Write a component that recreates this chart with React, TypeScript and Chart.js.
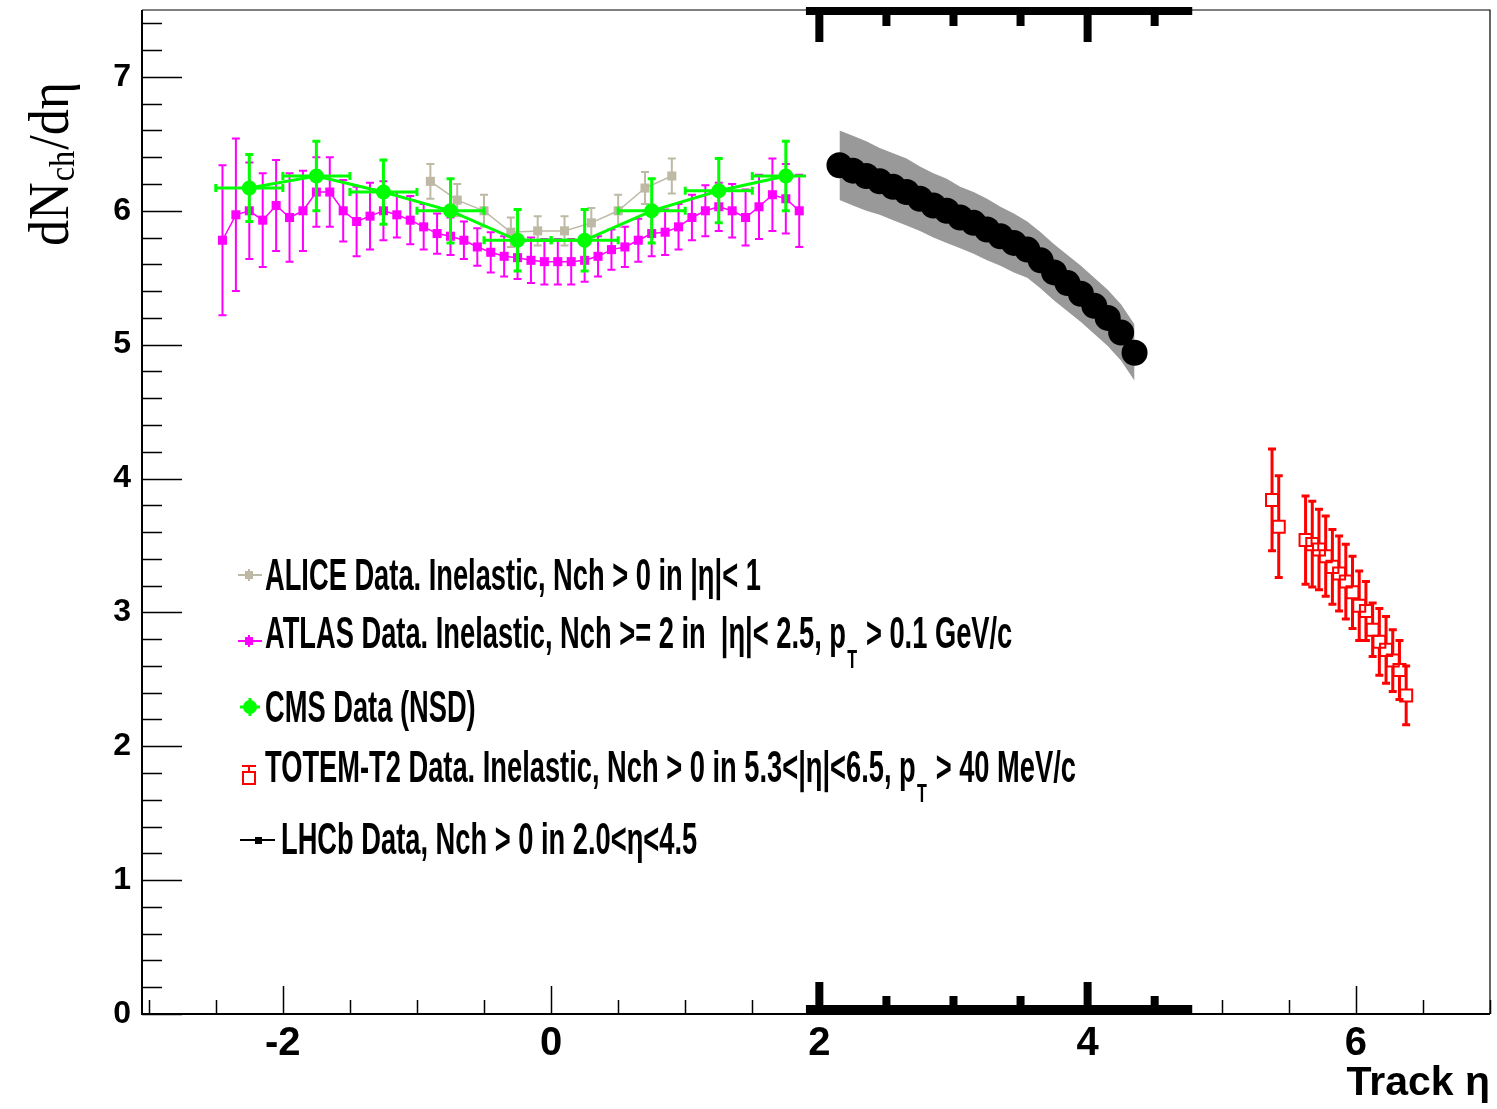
import React, { useEffect, useRef } from "react";
import { Chart, registerables } from "chart.js";

Chart.register(...registerables);

// ---------------- data ----------------
const ATLAS_ETA = [-2.45, -2.35, -2.25, -2.15, -2.05, -1.95, -1.85, -1.75, -1.65, -1.55, -1.45, -1.35, -1.25, -1.15, -1.05, -0.95, -0.85, -0.75, -0.65, -0.55, -0.45, -0.35, -0.25, -0.15, -0.05, 0.05, 0.15, 0.25, 0.35, 0.45, 0.55, 0.65, 0.75, 0.85, 0.95, 1.05, 1.15, 1.25, 1.35, 1.45, 1.55, 1.65, 1.75, 1.85];
const ATLAS_DNDETA = [5.78, 5.97, 6.0, 5.93, 6.04, 5.95, 6.0, 6.14, 6.14, 6.0, 5.92, 5.96, 6.0, 5.97, 5.93, 5.88, 5.83, 5.81, 5.78, 5.73, 5.69, 5.66, 5.65, 5.63, 5.62, 5.62, 5.62, 5.63, 5.66, 5.71, 5.73, 5.78, 5.83, 5.84, 5.88, 5.95, 6.0, 6.03, 6.0, 5.95, 6.03, 6.12, 6.09, 6.0];
const ATLAS_ERR = [0.56, 0.57, 0.36, 0.35, 0.34, 0.33, 0.3, 0.26, 0.26, 0.23, 0.26, 0.25, 0.22, 0.17, 0.18, 0.17, 0.15, 0.14, 0.14, 0.14, 0.15, 0.15, 0.16, 0.17, 0.17, 0.17, 0.17, 0.16, 0.15, 0.15, 0.15, 0.16, 0.17, 0.17, 0.17, 0.17, 0.19, 0.18, 0.2, 0.21, 0.24, 0.27, 0.26, 0.27];

const ALICE_ETA = [-0.9, -0.7, -0.5, -0.3, -0.1, 0.1, 0.3, 0.5, 0.7, 0.9];
const ALICE_DNDETA = [6.22, 6.08, 6.0, 5.84, 5.85, 5.85, 5.91, 6.0, 6.17, 6.26];
const ALICE_ERR = [0.13, 0.12, 0.12, 0.11, 0.11, 0.11, 0.11, 0.12, 0.12, 0.13];

const CMS_ETA = [-2.25, -1.75, -1.25, -0.75, -0.25, 0.25, 0.75, 1.25, 1.75];
const CMS_DNDETA = [6.17, 6.26, 6.14, 6.0, 5.78, 5.78, 6.0, 6.15, 6.26];
const CMS_ERR = [0.25, 0.26, 0.24, 0.24, 0.23, 0.23, 0.24, 0.24, 0.26];
const CMS_ETA_ERR = [0.25, 0.25, 0.25, 0.25, 0.25, 0.25, 0.25, 0.25, 0.25];

const LHCB_ETA = [2.15, 2.25, 2.35, 2.45, 2.55, 2.65, 2.75, 2.85, 2.95, 3.05, 3.15, 3.25, 3.35, 3.45, 3.55, 3.65, 3.75, 3.85, 3.95, 4.05, 4.15, 4.25, 4.35];
const LHCB_DNDETA = [6.34, 6.3, 6.26, 6.22, 6.18, 6.14, 6.09, 6.04, 6.0, 5.95, 5.91, 5.86, 5.81, 5.76, 5.71, 5.63, 5.54, 5.46, 5.38, 5.29, 5.2, 5.09, 4.94];
const LHCB_BAND = [0.26, 0.26, 0.26, 0.25, 0.25, 0.25, 0.24, 0.24, 0.24, 0.23, 0.23, 0.23, 0.22, 0.22, 0.21, 0.21, 0.21, 0.21, 0.21, 0.21, 0.21, 0.21, 0.21];

const TOTEM_ETA = [5.375, 5.425, 5.625, 5.675, 5.725, 5.775, 5.825, 5.875, 5.925, 5.975, 6.025, 6.075, 6.125, 6.175, 6.225, 6.275, 6.325, 6.375];
const TOTEM_DNDETA = [3.84, 3.64, 3.54, 3.51, 3.47, 3.42, 3.34, 3.29, 3.23, 3.15, 3.05, 3.01, 2.87, 2.78, 2.72, 2.64, 2.57, 2.38];
const TOTEM_ERR = [0.38, 0.38, 0.33, 0.32, 0.3, 0.3, 0.28, 0.28, 0.28, 0.27, 0.26, 0.22, 0.2, 0.25, 0.25, 0.23, 0.22, 0.22];

const X_TICKS = [-2, 0, 2, 4, 6];
const Y_TICKS = [0, 1, 2, 3, 4, 5, 6, 7];
const LHCB_FRAME_RANGE = [1.9, 4.78];
const LHCB_FRAME_TICKS = [2, 2.5, 3, 3.5, 4, 4.5];
const LHCB_FRAME_MAJOR = [2, 4];

const LEGEND_ENTRIES = [
  { key: "alice", parts: [{ t: "ALICE Data. Inelastic, Nch > 0 in |η|< 1" }] },
  { key: "atlas", parts: [{ t: "ATLAS Data. Inelastic, Nch >= 2 in  |η|< 2.5, p" }, { t: "T", sub: true }, { t: " > 0.1 GeV/c" }] },
  { key: "cms", parts: [{ t: "CMS Data (NSD)" }] },
  { key: "totem", parts: [{ t: "TOTEM-T2 Data. Inelastic, Nch > 0 in 5.3<|η|<6.5, p" }, { t: "T", sub: true }, { t: " > 40 MeV/c" }] },
  { key: "lhcb", parts: [{ t: "LHCb Data, Nch > 0 in 2.0<η<4.5" }] },
];

// ---------------- colours ----------------
const C_ALICE = "#bdb9a5";
const C_ATLAS = "#ff00ff";
const C_CMS = "#00ff00";
const C_TOTEM = "#ff0000";
const C_LHCB = "#000000";
const C_BAND = "#999999";

const pts = (xs: number[], ys: number[]) => xs.map((x, i) => ({ x, y: ys[i] }));

// ---------------- plugins ----------------
const errorBarPlugin = {
  id: "errorBars",
  beforeDatasetDraw(chart: any, args: any) {
    const ds = chart.data.datasets[args.index];
    const ctx = chart.ctx;
    const xs = chart.scales.x;
    const ys = chart.scales.y;
    const ca = chart.chartArea;
    ctx.save();
    if (ds.clipMaxX !== undefined) {
      ctx.beginPath();
      ctx.rect(ca.left, ca.top, xs.getPixelForValue(ds.clipMaxX) - ca.left, ca.bottom - ca.top);
      ctx.clip();
    }
    if (!ds.errY && !ds.errX) return;
    ctx.strokeStyle = ds.errColor;
    ctx.lineWidth = ds.errWidth;
    const gap = ds.errGap || 0;
    const c = ds.capHalf || 0;
    ds.data.forEach((p: any, i: number) => {
      const px = xs.getPixelForValue(p.x);
      const py = ys.getPixelForValue(p.y);
      ctx.beginPath();
      if (ds.errY) {
        const e = ds.errY[i];
        const top = ys.getPixelForValue(p.y + e);
        const bot = ys.getPixelForValue(p.y - e);
        if (top < py - gap) { ctx.moveTo(px, top); ctx.lineTo(px, py - gap); }
        if (bot > py + gap) { ctx.moveTo(px, py + gap); ctx.lineTo(px, bot); }
        ctx.moveTo(px - c, top); ctx.lineTo(px + c, top);
        ctx.moveTo(px - c, bot); ctx.lineTo(px + c, bot);
      }
      if (ds.errX) {
        const e = ds.errX[i];
        const l = xs.getPixelForValue(p.x - e);
        const r = xs.getPixelForValue(p.x + e);
        ctx.moveTo(l, py); ctx.lineTo(r, py);
        ctx.moveTo(l, py - c); ctx.lineTo(l, py + c);
        ctx.moveTo(r, py - c); ctx.lineTo(r, py + c);
      }
      ctx.stroke();
    });
  },
  afterDatasetDraw(chart: any) {
    chart.ctx.restore();
  },
};

const framePlugin = {
  id: "frame",
  afterDraw(chart: any) {
    const { ctx, chartArea: ca, scales } = chart;
    const x = scales.x;
    const y = scales.y;
    ctx.save();
    ctx.strokeStyle = "#000";
    ctx.lineWidth = 1.2;
    ctx.beginPath();
    ctx.moveTo(ca.left, ca.top);
    ctx.lineTo(ca.right, ca.top);
    ctx.lineTo(ca.right, ca.bottom);
    ctx.stroke();
    ctx.lineWidth = 2;
    ctx.beginPath();
    ctx.moveTo(ca.left, ca.top);
    ctx.lineTo(ca.left, ca.bottom);
    ctx.lineTo(ca.right, ca.bottom);
    ctx.stroke();
    // y ticks (inward)
    ctx.lineWidth = 1.5;
    ctx.beginPath();
    for (let i = 0; i <= 37; i++) {
      const py = Math.round(y.getPixelForValue(i * 0.2)) + 0.5;
      const len = i % 5 === 0 ? 40 : 20;
      ctx.moveTo(ca.left, py);
      ctx.lineTo(ca.left + len, py);
    }
    ctx.stroke();
    // x ticks (inward)
    ctx.beginPath();
    for (let i = -6; i <= 14; i++) {
      const px = Math.round(x.getPixelForValue(i * 0.5)) + 0.5;
      const len = i % 4 === 0 ? 28 : 14;
      ctx.moveTo(px, ca.bottom);
      ctx.lineTo(px, ca.bottom - len);
    }
    ctx.stroke();
    // LHCb frame overlay (thick segments)
    ctx.fillStyle = "#000";
    const x1 = x.getPixelForValue(LHCB_FRAME_RANGE[0]);
    const x2 = x.getPixelForValue(LHCB_FRAME_RANGE[1]);
    ctx.fillRect(x1, ca.top - 3, x2 - x1, 8);
    ctx.fillRect(x1, ca.bottom - 9, x2 - x1, 9);
    LHCB_FRAME_TICKS.forEach((v) => {
      const px = x.getPixelForValue(v);
      const major = LHCB_FRAME_MAJOR.includes(v);
      ctx.fillRect(px - 4, ca.top, 8, major ? 32 : 16);
      ctx.fillRect(px - 4, ca.bottom - (major ? 32 : 18), 8, major ? 32 : 18);
    });
    ctx.restore();
  },
};

const SQUEEZE = 0.62;
const LEGEND_X = [265, 265, 265, 265, 281];
const LEGEND_Y = [590, 648, 722, 782, 854];

const legendPlugin = {
  id: "customLegend",
  afterDraw(chart: any) {
    const ctx = chart.ctx;
    ctx.save();
    LEGEND_ENTRIES.forEach((entry, k) => {
      const bx = LEGEND_X[k];
      const by = LEGEND_Y[k];
      const my = by - 15;
      ctx.save();
      if (entry.key === "alice") {
        ctx.strokeStyle = C_ALICE; ctx.fillStyle = C_ALICE; ctx.lineWidth = 2;
        ctx.beginPath(); ctx.moveTo(238, my); ctx.lineTo(262, my); ctx.moveTo(249, my - 6); ctx.lineTo(249, my + 6); ctx.stroke();
        ctx.fillRect(245, my - 4, 8, 8);
      } else if (entry.key === "atlas") {
        const yy = by - 7;
        ctx.strokeStyle = C_ATLAS; ctx.fillStyle = C_ATLAS; ctx.lineWidth = 2;
        ctx.beginPath(); ctx.moveTo(238, yy); ctx.lineTo(262, yy); ctx.moveTo(249, yy - 6); ctx.lineTo(249, yy + 6); ctx.stroke();
        ctx.fillRect(245, yy - 4, 8, 8);
      } else if (entry.key === "cms") {
        const yy = by - 15;
        ctx.strokeStyle = C_CMS; ctx.fillStyle = C_CMS; ctx.lineWidth = 3;
        ctx.beginPath(); ctx.moveTo(240, yy); ctx.lineTo(260, yy); ctx.moveTo(250, yy - 9); ctx.lineTo(250, yy + 9); ctx.stroke();
        ctx.beginPath(); ctx.arc(250, yy, 7, 0, Math.PI * 2); ctx.fill();
      } else if (entry.key === "totem") {
        const yy = by - 4;
        ctx.strokeStyle = C_TOTEM; ctx.lineWidth = 2;
        ctx.strokeRect(243, yy - 6, 12, 12);
        ctx.beginPath(); ctx.moveTo(249, yy - 6); ctx.lineTo(249, yy - 12); ctx.moveTo(242, yy - 12); ctx.lineTo(256, yy - 12); ctx.stroke();
      } else if (entry.key === "lhcb") {
        const yy = by - 14;
        ctx.strokeStyle = C_LHCB; ctx.fillStyle = C_LHCB; ctx.lineWidth = 2;
        ctx.beginPath(); ctx.moveTo(240, yy); ctx.lineTo(275, yy); ctx.stroke();
        ctx.fillRect(255, yy - 3, 7, 7);
      }
      ctx.restore();
      ctx.save();
      ctx.translate(bx, by);
      ctx.scale(SQUEEZE, 1);
      ctx.fillStyle = "#000";
      ctx.textBaseline = "alphabetic";
      let cx = 0;
      entry.parts.forEach((p: any) => {
        ctx.font = p.sub ? 'bold 26px "Liberation Sans", Arial, sans-serif' : 'bold 44px "Liberation Sans", Arial, sans-serif';
        ctx.fillText(p.t, cx + (p.sub ? 2 : 0), p.sub ? 20 : 0);
        cx += ctx.measureText(p.t).width + (p.sub ? 4 : 0);
      });
      ctx.restore();
    });
    ctx.restore();
  },
};

const yTitlePlugin = {
  id: "yTitle",
  afterDraw(chart: any) {
    const ctx = chart.ctx;
    ctx.save();
    ctx.translate(68, 246);
    ctx.rotate(-Math.PI / 2);
    ctx.scale(0.9, 1);
    ctx.fillStyle = "#000";
    ctx.textBaseline = "alphabetic";
    ctx.font = '58px "Liberation Serif", "Times New Roman", serif';
    ctx.fillText("dN", 0, 0);
    let w = ctx.measureText("dN").width;
    ctx.font = '36px "Liberation Serif", "Times New Roman", serif';
    ctx.fillText("ch", w + 1, 6);
    w += ctx.measureText("ch").width + 2;
    ctx.font = '58px "Liberation Serif", "Times New Roman", serif';
    ctx.fillText("/dη", w, 0);
    ctx.restore();
  },
};

const zeroPad = (axis: any) => {
  axis.paddingTop = 0;
  axis.paddingBottom = 0;
  axis.paddingLeft = 0;
  axis.paddingRight = 0;
};

// ---------------- component ----------------
export default function App() {
  const ref = useRef<HTMLCanvasElement>(null);

  useEffect(() => {
    if (!ref.current) return;
    const bandUpper = LHCB_ETA.map((x, i) => ({ x, y: LHCB_DNDETA[i] + LHCB_BAND[i] }));
    const bandLower = LHCB_ETA.map((x, i) => ({ x, y: LHCB_DNDETA[i] - LHCB_BAND[i] }));

    const datasets: any[] = [
      {
        label: "LHCb band upper",
        data: bandUpper,
        showLine: true,
        pointRadius: 0,
        borderWidth: 0,
        borderColor: C_BAND,
        backgroundColor: C_BAND,
        fill: "+1",
        order: 20,
      },
      {
        label: "LHCb band lower",
        data: bandLower,
        showLine: true,
        pointRadius: 0,
        borderWidth: 0,
        borderColor: C_BAND,
        backgroundColor: C_BAND,
        fill: false,
        order: 19,
      },
      {
        label: "LHCb",
        data: pts(LHCB_ETA, LHCB_DNDETA),
        showLine: false,
        pointStyle: "circle",
        pointRadius: 13,
        pointBackgroundColor: C_LHCB,
        pointBorderWidth: 0,
        order: 10,
      },
      {
        label: "TOTEM",
        data: pts(TOTEM_ETA, TOTEM_DNDETA),
        showLine: false,
        pointStyle: "rect",
        pointRadius: 8.5,
        pointBackgroundColor: "rgba(255,255,255,0)",
        pointBorderColor: C_TOTEM,
        pointBorderWidth: 2,
        errY: TOTEM_ERR,
        errColor: C_TOTEM,
        errWidth: 3,
        errGap: 6,
        capHalf: 4,
        order: 9,
      },
      {
        label: "ATLAS",
        data: pts(ATLAS_ETA, ATLAS_DNDETA),
        showLine: true,
        borderColor: C_ATLAS,
        borderWidth: 1.5,
        pointStyle: "rect",
        pointRadius: 6.4,
        pointBackgroundColor: C_ATLAS,
        pointBorderWidth: 0,
        errY: ATLAS_ERR,
        errColor: C_ATLAS,
        errWidth: 2,
        capHalf: 4,
        clipMaxX: LHCB_FRAME_RANGE[0],
        order: 8,
      },
      {
        label: "ALICE",
        data: pts(ALICE_ETA, ALICE_DNDETA),
        showLine: true,
        borderColor: C_ALICE,
        borderWidth: 1.5,
        pointStyle: "rect",
        pointRadius: 6.4,
        pointBackgroundColor: C_ALICE,
        pointBorderWidth: 0,
        errY: ALICE_ERR,
        errColor: C_ALICE,
        errWidth: 2,
        capHalf: 4,
        clipMaxX: LHCB_FRAME_RANGE[0],
        order: 7,
      },
      {
        label: "CMS",
        data: pts(CMS_ETA, CMS_DNDETA),
        showLine: true,
        borderColor: C_CMS,
        borderWidth: 3,
        pointStyle: "circle",
        pointRadius: 7.5,
        pointBackgroundColor: C_CMS,
        pointBorderWidth: 0,
        errY: CMS_ERR,
        errX: CMS_ETA_ERR,
        errColor: C_CMS,
        errWidth: 3,
        capHalf: 4,
        clipMaxX: LHCB_FRAME_RANGE[0],
        order: 1,
      },
    ];

    const chart = new Chart(ref.current, {
      type: "scatter",
      data: { datasets },
      options: {
        animation: false,
        responsive: false,
        devicePixelRatio: 1,
        layout: { autoPadding: false, padding: { left: 0, right: 7, top: 10, bottom: 0 } },
        plugins: {
          legend: { display: false },
          tooltip: { enabled: false },
        },
        scales: {
          x: {
            type: "linear",
            min: -3.05,
            max: 7,
            grid: { display: false, drawTicks: false },
            border: { display: false },
            afterBuildTicks: (axis: any) => {
              axis.ticks = X_TICKS.map((v) => ({ value: v }));
            },
            afterFit: (axis: any) => {
              axis.height = 95;
              zeroPad(axis);
            },
            ticks: {
              autoSkip: false,
              maxRotation: 0,
              padding: 6,
              color: "#000",
              font: { family: '"Liberation Sans", Arial, sans-serif', size: 40, weight: "bold" },
            },
            title: {
              display: true,
              text: "Track η",
              align: "end",
              color: "#000",
              padding: { top: 0, bottom: 1 },
              font: { family: '"Liberation Sans", Arial, sans-serif', size: 41, weight: "bold" },
            },
          },
          y: {
            type: "linear",
            min: 0,
            max: 7.5,
            grid: { display: false, drawTicks: false },
            border: { display: false },
            afterBuildTicks: (axis: any) => {
              axis.ticks = Y_TICKS.map((v) => ({ value: v }));
            },
            afterFit: (axis: any) => {
              axis.width = 142;
              zeroPad(axis);
            },
            ticks: {
              autoSkip: false,
              padding: 11,
              color: "#000",
              font: { family: '"Liberation Sans", Arial, sans-serif', size: 32, weight: "bold" },
            },
          },
        },
      } as any,
      plugins: [errorBarPlugin, framePlugin, legendPlugin, yTitlePlugin],
    } as any);
    return () => chart.destroy();
  }, []);

  return (
    <div style={{ position: "absolute", left: 0, top: 0, width: 1497, height: 1109, background: "#fff" }}>
      <canvas ref={ref} width={1497} height={1109} style={{ display: "block", width: 1497, height: 1109 }} />
    </div>
  );
}
